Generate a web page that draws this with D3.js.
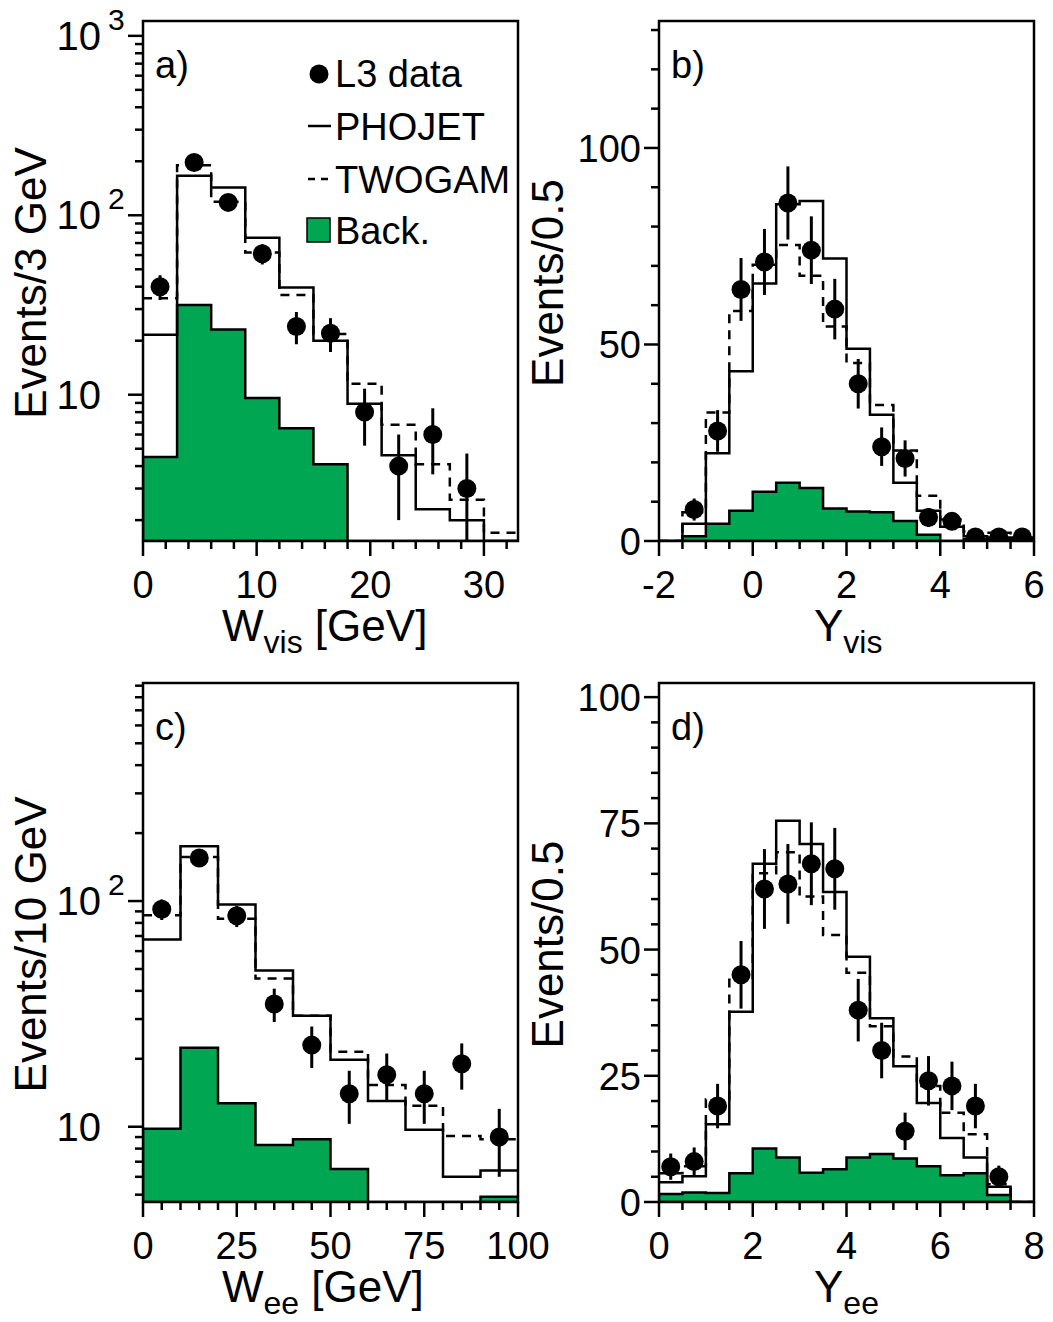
<!DOCTYPE html>
<html>
<head>
<meta charset="utf-8">
<script src="https://cdn.jsdelivr.net/npm/d3@7"></script>
<style>
body { margin: 0; background: #fff; }
text { font-family: "Liberation Sans", Arial, Helvetica, sans-serif; fill: #000; }
</style>
</head>
<body>
<svg id="chart" width="1053" height="1322"></svg>
<script>
// a) W_vis, 3 GeV bins
const wvisBins = [0, 3, 6, 9, 12, 15, 18, 21, 24, 27, 30, 33]
const wvisData = [40, 197, 118, 61, 24, 22, 8, 4, 6, 3, null]
const wvisErr = [6.3, 14, 10.9, 7.8, 4.9, 4.7, 2.8, 2, 2.4, 1.7, null]
const wvisPhojet = [21.6, 166, 143, 75, 39.6, 20, 8.9, 4.6, 2.3, 2.0, 0]
const wvisTwogam = [34.5, 190, 119, 62, 36, 21.8, 11.5, 6.8, 4.1, 2.6, 1.7]
const wvisBack = [4.5, 31.6, 23.1, 9.6, 6.5, 4.1, 0, 0, 0, 0, 0]

// b) Y_vis, 0.5 bins
const yvisBins = [-2, -1.5, -1, -0.5, 0, 0.5, 1, 1.5, 2, 2.5, 3, 3.5, 4, 4.5, 5, 5.5, 6]
const yvisData = [null, 8, 28, 64, 71, 86, 74, 59, 40, 24, 21, 6, 5, 1, 1, 1]
const yvisErr = [null, 2.8, 5.3, 8, 8.4, 9.3, 8.6, 7.7, 6.3, 4.9, 4.6, 2.4, 2.2, 1, 1, 1]
const yvisPhojet = [0, 4.4, 22.3, 43.2, 65.5, 85.7, 86.5, 71.9, 48.9, 32.1, 14.8, 7.7, 3.6, 1.2, 0.9, 0.9]
const yvisTwogam = [0, 7.3, 32.7, 58.5, 70.3, 75.3, 67.5, 54.6, 45.3, 34.6, 23, 11.5, 5.5, 2.4, 2.1, 1.6]
const yvisBack = [0, 1.2, 4.4, 7.7, 12.5, 14.8, 13.5, 8.3, 7.5, 7.3, 5.1, 1.6, 0, 0.5, 0.5, 0.5]

// c) W_ee, 10 GeV bins
const weeBins = [0, 10, 20, 30, 40, 50, 60, 70, 80, 90, 100]
const weeData = [92, 155, 86, 35, 23, 14, 17, 14, 19, 9]
const weeErr = [9.6, 12.4, 9.3, 5.9, 4.8, 3.7, 4.1, 3.7, 4.4, 3]
const weePhojet = [67.5, 175, 96.6, 49.2, 31, 19.8, 13, 9.7, 6, 6.4]
const weeTwogam = [86.6, 156.6, 83.4, 45.4, 31, 21.5, 15.3, 12.4, 9.1, 8.8]
const weeBack = [9.8, 22.4, 12.7, 8.3, 8.8, 6.5, 0, 0, 0, 4.9]

// d) Y_ee, 0.5 bins
const yeeBins = [0, 0.5, 1, 1.5, 2, 2.5, 3, 3.5, 4, 4.5, 5, 5.5, 6, 6.5, 7, 7.5, 8]
const yeeData = [7, 8, 19, 45, 62, 63, 67, 66, 38, 30, 14, 24, 23, 19, 5, null]
const yeeErr = [2.6, 2.8, 4.4, 6.7, 7.9, 7.9, 8.2, 8.1, 6.2, 5.5, 3.7, 4.9, 4.8, 4.4, 2.2, null]
const yeePhojet = [3.9, 5.1, 15.4, 37.7, 67, 75.5, 70.9, 61.4, 48.6, 36.4, 26.9, 19.6, 12.7, 8.8, 3.0, 0]
const yeeTwogam = [5.7, 7.1, 20.3, 44, 65.1, 69.3, 60.5, 52.9, 45.4, 34.8, 28.8, 23, 17.7, 13.4, 3.5, 0]
const yeeBack = [1.6, 1.9, 1.8, 5.7, 10.6, 8.8, 5.8, 6.5, 8.8, 9.5, 8.6, 7.1, 5.3, 5.7, 1.4, 0]

// tick labels
const wvisTicks = [0, 10, 20, 30]
const yvisTicks = [-2, 0, 2, 4, 6]
const weeTicks = [0, 25, 50, 75, 100]
const yeeTicks = [0, 2, 4, 6, 8]
const logTicksA = [10, 100, 1000]
const linTicksB = [0, 50, 100]
const logTicksC = [10, 100]
const linTicksD = [0, 25, 50, 75, 100]

const legendItems = ['L3 data', 'PHOJET', 'TWOGAM', 'Back.']

const green = '#00a651'
const svg = d3.select('#chart')

const panels = [
    {id: 'a', label: 'a)', left: 143, right: 518, top: 21, bottom: 541, xDomain: [0, 33], yDomain: [1.53, 1210], log: true,
        bins: wvisBins, data: wvisData, err: wvisErr, phojet: wvisPhojet, twogam: wvisTwogam, back: wvisBack,
        xTicks: wvisTicks, xMinor: d3.range(0, 33.1, 2), yTicks: logTicksA,
        yTitle: 'Events/3 GeV', xMain: 'W', xSub: 'vis', xUnit: ' [GeV]'},
    {id: 'b', label: 'b)', left: 659, right: 1034, top: 21, bottom: 541, xDomain: [-2, 6], yDomain: [0, 132.3], log: false,
        bins: yvisBins, data: yvisData, err: yvisErr, phojet: yvisPhojet, twogam: yvisTwogam, back: yvisBack,
        xTicks: yvisTicks, xMinor: d3.range(-2, 6.01, 0.5), yTicks: linTicksB, yMinor: d3.range(0, 131, 10),
        yTitle: 'Events/0.5', xMain: 'Y', xSub: 'vis', xUnit: ''},
    {id: 'c', label: 'c)', left: 143, right: 518, top: 683, bottom: 1202, xDomain: [0, 100], yDomain: [4.64, 925], log: true,
        bins: weeBins, data: weeData, err: weeErr, phojet: weePhojet, twogam: weeTwogam, back: weeBack,
        xTicks: weeTicks, xMinor: d3.range(0, 100.1, 5), yTicks: logTicksC,
        yTitle: 'Events/10 GeV', xMain: 'W', xSub: 'ee', xUnit: ' [GeV]'},
    {id: 'd', label: 'd)', left: 659, right: 1034, top: 683, bottom: 1202, xDomain: [0, 8], yDomain: [0, 102.8], log: false,
        bins: yeeBins, data: yeeData, err: yeeErr, phojet: yeePhojet, twogam: yeeTwogam, back: yeeBack,
        xTicks: yeeTicks, xMinor: d3.range(0, 8.01, 0.5), yTicks: linTicksD, yMinor: d3.range(0, 101, 5),
        yTitle: 'Events/0.5', xMain: 'Y', xSub: 'ee', xUnit: ''}
]

panels.forEach(drawPanel)
drawLegend()

function drawPanel(p) {
    const x = d3.scaleLinear().domain(p.xDomain).range([p.left, p.right])
    const y = (p.log ? d3.scaleLog() : d3.scaleLinear()).domain(p.yDomain).range([p.bottom, p.top])
    const yc = v => y(Math.max(v, p.yDomain[0]))

    const g = svg.append('g')

    g.append('clipPath').attr('id', 'clip-' + p.id)
        .append('rect')
        .attr('x', p.left).attr('y', p.top)
        .attr('width', p.right - p.left).attr('height', p.bottom - p.top)

    const plot = g.append('g').attr('clip-path', `url(#clip-${p.id})`)

    const n = p.bins.length - 1
    const stepPts = vals => vals.map((v, i) => [p.bins[i], v]).concat([[p.bins[n], vals[n - 1]]])

    const area = d3.area()
        .x(d => x(d[0]))
        .y0(p.bottom)
        .y1(d => yc(d[1]))
        .curve(d3.curveStepAfter)

    const line = d3.line()
        .x(d => x(d[0]))
        .y(d => yc(d[1]))
        .curve(d3.curveStepAfter)

    plot.append('path')
        .attr('d', area(stepPts(p.back)))
        .style('fill', green)
        .style('stroke', '#000')
        .style('stroke-width', 2.5)

    plot.append('path')
        .attr('d', line(stepPts(p.phojet)))
        .style('fill', 'none')
        .style('stroke', '#000')
        .style('stroke-width', 2.5)

    plot.append('path')
        .attr('d', line(stepPts(p.twogam)))
        .style('fill', 'none')
        .style('stroke', '#000')
        .style('stroke-width', 2.5)
        .style('stroke-dasharray', '9,7')

    const pts = p.data.map((v, i) => ({x: (p.bins[i] + p.bins[i + 1]) / 2, v: v, e: p.err[i]}))
        .filter(d => d.v !== null)

    plot.selectAll('line.err')
        .data(pts)
        .join('line')
        .attr('class', 'err')
        .attr('x1', d => x(d.x)).attr('x2', d => x(d.x))
        .attr('y1', d => yc(d.v - d.e)).attr('y2', d => yc(d.v + d.e))
        .style('stroke', '#000')
        .style('stroke-width', 3)

    plot.selectAll('circle')
        .data(pts)
        .join('circle')
        .attr('cx', d => x(d.x))
        .attr('cy', d => y(d.v))
        .attr('r', 9.5)
        .style('fill', '#000')

    // frame
    g.append('rect')
        .attr('x', p.left).attr('y', p.top)
        .attr('width', p.right - p.left).attr('height', p.bottom - p.top)
        .style('fill', 'none')
        .style('stroke', '#000')
        .style('stroke-width', 2.5)

    // x ticks
    g.selectAll('line.xminor')
        .data(p.xMinor)
        .join('line')
        .attr('x1', d => x(d)).attr('x2', d => x(d))
        .attr('y1', p.bottom).attr('y2', d => p.bottom + (p.xTicks.some(t => Math.abs(t - d) < 1e-6) ? 15 : 8))
        .style('stroke', '#000')
        .style('stroke-width', 2.5)

    g.selectAll('text.xlab')
        .data(p.xTicks)
        .join('text')
        .attr('x', d => x(d))
        .attr('y', p.bottom + 57)
        .attr('text-anchor', 'middle')
        .style('font-size', '38px')
        .text(d => d)

    // y ticks
    const yMinor = p.log ? y.ticks().filter(t => t >= p.yDomain[0] && t <= p.yDomain[1]) : p.yMinor
    g.selectAll('line.yminor')
        .data(yMinor)
        .join('line')
        .attr('x1', p.left)
        .attr('x2', d => p.left - (p.yTicks.some(t => Math.abs(t - d) < 1e-6) ? 15 : 8))
        .attr('y1', d => y(d)).attr('y2', d => y(d))
        .style('stroke', '#000')
        .style('stroke-width', 2.5)

    if (p.log) {
        p.yTicks.forEach(t => {
            const exp = Math.round(Math.log10(t))
            g.append('text')
                .attr('x', p.left - 42)
                .attr('y', y(t) + 14)
                .attr('text-anchor', 'end')
                .style('font-size', '40px')
                .text('10')
            if (exp > 1) {
                g.append('text')
                    .attr('x', p.left - 35)
                    .attr('y', y(t) - 6)
                    .style('font-size', '30px')
                    .text(exp)
            }
        })
    } else {
        g.selectAll('text.ylab')
            .data(p.yTicks)
            .join('text')
            .attr('x', p.left - 18)
            .attr('y', d => y(d) + 14)
            .attr('text-anchor', 'end')
            .style('font-size', '38px')
            .text(d => d)
    }

    // axis titles
    const cy = (p.top + p.bottom) / 2 + 2
    const tx = p.id === 'a' || p.id === 'c' ? 46 : 563
    g.append('text')
        .attr('transform', `translate(${tx},${cy}) rotate(-90)`)
        .attr('text-anchor', 'middle')
        .style('font-size', '44px')
        .text(p.yTitle)

    const xt = g.append('text')
        .attr('x', p.id === 'a' || p.id === 'c' ? 222 : 814)
        .attr('y', p.bottom + 100)
        .style('font-size', '44px')
    xt.append('tspan').text(p.xMain)
    xt.append('tspan').attr('dy', 12).style('font-size', '32px').text(p.xSub)
    if (p.xUnit) xt.append('tspan').attr('dy', -12).text(p.xUnit)

    g.append('text')
        .attr('x', p.left + 12)
        .attr('y', p.top + 57)
        .style('font-size', '38px')
        .text(p.label)
}

function drawLegend() {
    const lg = svg.append('g')
    const tx = 335
    const rows = [87, 140, 193, 244]

    lg.append('circle').attr('cx', 319).attr('cy', 74).attr('r', 9.5).style('fill', '#000')
    lg.append('line').attr('x1', 308).attr('x2', 331).attr('y1', 126).attr('y2', 126)
        .style('stroke', '#000').style('stroke-width', 2.5)
    lg.append('line').attr('x1', 308).attr('x2', 330).attr('y1', 179).attr('y2', 179)
        .style('stroke', '#000').style('stroke-width', 2.5).style('stroke-dasharray', '7,6')
    lg.append('rect').attr('x', 307).attr('y', 218).attr('width', 23).attr('height', 24)
        .style('fill', green).style('stroke', '#000').style('stroke-width', 1.5)

    lg.selectAll('text')
        .data(legendItems)
        .join('text')
        .attr('x', tx)
        .attr('y', (d, i) => rows[i])
        .style('font-size', '38px')
        .text(d => d)
}
</script>
</body>
</html>
